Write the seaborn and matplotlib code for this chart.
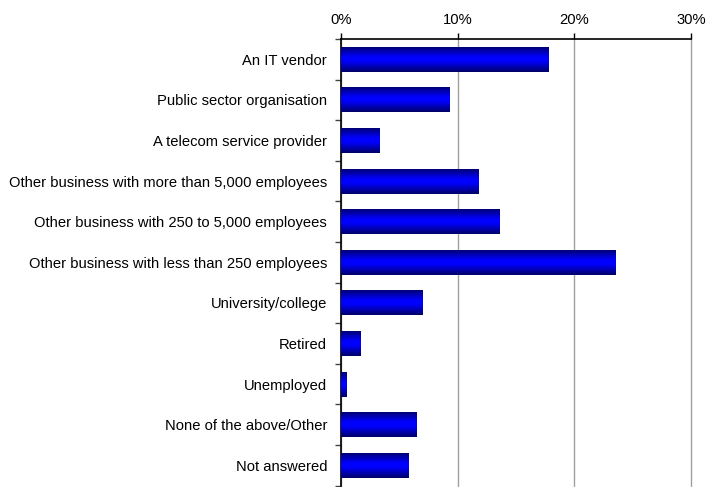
import numpy as np
import pandas as pd
import matplotlib
matplotlib.use("Agg")
import matplotlib.pyplot as plt
from matplotlib.colors import LinearSegmentedColormap
from matplotlib.ticker import FixedLocator, PercentFormatter
import seaborn as sns

categories = [
    "An IT vendor",
    "Public sector organisation",
    "A telecom service provider",
    "Other business with more than 5,000 employees",
    "Other business with 250 to 5,000 employees",
    "Other business with less than 250 employees",
    "University/college",
    "Retired",
    "Unemployed",
    "None of the above/Other",
    "Not answered",
]
values = [17.8, 9.3, 3.3, 11.8, 13.6, 23.5, 7.0, 1.7, 0.5, 6.5, 5.8]
x_ticks = [0, 10, 20, 30]

df = pd.DataFrame({"category": categories, "value": values})

sns.set_style("white")
plt.rcParams["font.family"] = ["Liberation Sans", "DejaVu Sans"]
plt.rcParams["text.color"] = "black"
plt.rcParams["xtick.color"] = "black"
plt.rcParams["ytick.color"] = "black"

fig = plt.figure(figsize=(7.06, 4.87), dpi=100)
ax = fig.add_axes([341 / 706, 1 - 485.6 / 487, (691 - 341) / 706, (485.6 - 39) / 487])

sns.barplot(data=df, x="value", y="category", orient="h", color="#0000ff",
            width=0.62, ax=ax, saturation=1)

cmap = LinearSegmentedColormap.from_list(
    "bar", [(0.0, "#000066"), (0.42, "#0000ff"), (0.58, "#0000ff"), (1.0, "#000066")])
grad = np.linspace(0, 1, 512).reshape(-1, 1)
for p in list(ax.patches):
    x0, y0 = p.get_x(), p.get_y()
    w, h = p.get_width(), p.get_height()
    p.set_edgecolor("none")
    im = ax.imshow(grad, cmap=cmap, aspect="auto", interpolation="antialiased",
                   extent=[x0, x0 + w, y0, y0 + h], zorder=3)
    im.set_clip_path(p)

ax.set_xlim(0, 30)
ax.set_ylim(len(categories) - 0.5, -0.5)
ax.xaxis.set_major_locator(FixedLocator(x_ticks))
ax.xaxis.set_major_formatter(PercentFormatter(decimals=0))
ax.xaxis.tick_top()
ax.set_xlabel("")
ax.set_ylabel("")

ax.grid(axis="x", color="#a0a0a0", linewidth=1.0, zorder=0)
for gl in ax.get_xgridlines():
    gl.set_clip_on(False)
ax.set_axisbelow(True)

for s in ["right", "bottom"]:
    ax.spines[s].set_visible(False)
for s in ["top", "left"]:
    ax.spines[s].set_visible(True)
    ax.spines[s].set_color("black")
    ax.spines[s].set_linewidth(1.2)

ax.tick_params(axis="x", which="major", top=True, bottom=False, direction="out",
               length=4, width=1, color="black", labelsize=10.6, pad=5,
               labelcolor="black")
ax.yaxis.set_minor_locator(FixedLocator(np.arange(-0.5, len(categories), 1.0)))
ax.tick_params(axis="y", which="major", left=False, length=0, labelsize=10.6, pad=10,
               labelcolor="black")
ax.tick_params(axis="y", which="minor", left=True, direction="out", length=4,
               width=1, color="#444444")

fig.savefig("out.png", dpi=100)
